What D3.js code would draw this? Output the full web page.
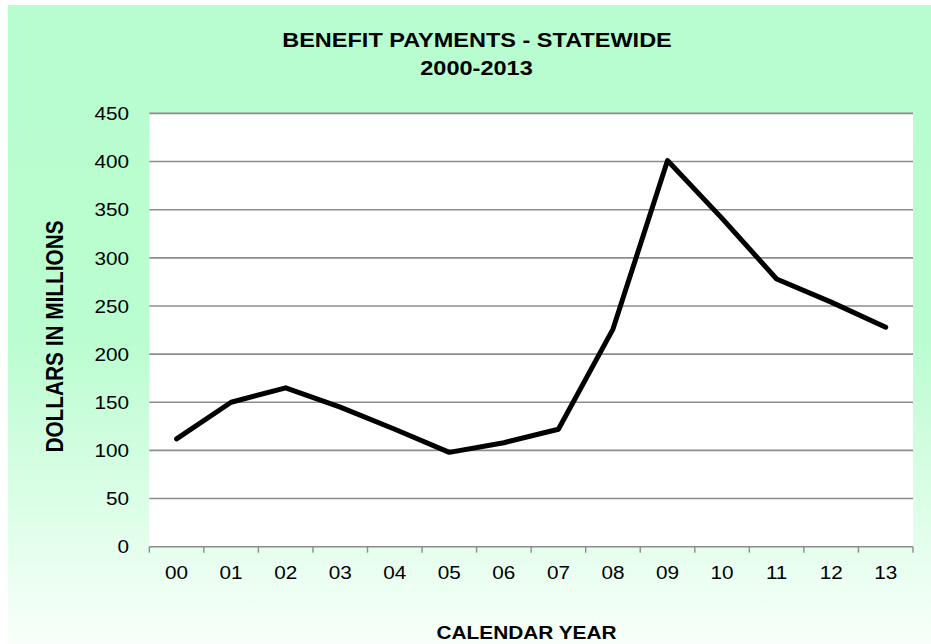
<!DOCTYPE html>
<html>
<head>
<meta charset="utf-8">
<script src="https://cdn.jsdelivr.net/npm/d3@7"></script>
<style>
  html, body { margin: 0; padding: 0; background: #ffffff; }
  svg { display: block; }
  text { font-family: "Liberation Sans", Arial, sans-serif; fill: #000; }
</style>
</head>
<body>
<svg id="chart" width="931" height="644"></svg>
<script>
const years = ["00","01","02","03","04","05","06","07","08","09","10","11","12","13"];
const payments = [112, 150, 165, 145, 122, 98, 108, 122, 226, 401, 341, 278, 254, 228];
const yTicks = [0, 50, 100, 150, 200, 250, 300, 350, 400, 450];
const titleLines = ["BENEFIT PAYMENTS - STATEWIDE", "2000-2013"];
const xTitle = "CALENDAR YEAR";
const yTitle = "DOLLARS IN MILLIONS";

const W = 931, H = 644;
const plot = { left: 149.3, right: 913, top: 113.4, bottom: 546.7 };
const SX = 1.12; // horizontal text stretch of the original

const svg = d3.select("#chart");
const defs = svg.append("defs");
const grad = defs.append("linearGradient").attr("id", "bg").attr("x1", 0).attr("y1", 0).attr("x2", 0).attr("y2", 1);
grad.append("stop").attr("offset", "0%").attr("stop-color", "#b8fdcf");
grad.append("stop").attr("offset", "52%").attr("stop-color", "#bafdd0");
grad.append("stop").attr("offset", "100%").attr("stop-color", "#f8fffa");

svg.append("rect").attr("x", 8).attr("y", 5).attr("width", W - 8).attr("height", H - 5).attr("fill", "url(#bg)");

const x = d3.scaleBand().domain(years).range([plot.left, plot.right]).paddingInner(0).paddingOuter(0);
const y = d3.scaleLinear().domain([0, 450]).range([plot.bottom, plot.top]);

// plot area
svg.append("rect").attr("x", plot.left).attr("y", plot.top)
  .attr("width", plot.right - plot.left).attr("height", plot.bottom - plot.top).attr("fill", "#ffffff");

// gridlines
svg.append("g").attr("class", "grid")
  .selectAll("line").data(yTicks.filter(d => d > 0)).join("line")
  .attr("x1", plot.left).attr("x2", plot.right)
  .attr("y1", d => y(d)).attr("y2", d => y(d))
  .attr("stroke", "#8c8c8c").attr("stroke-width", 1.6);

// y tick labels
svg.append("g").selectAll("text").data(yTicks).join("text")
  .attr("transform", d => `translate(129,${y(d)}) scale(${SX},1)`)
  .attr("text-anchor", "end").attr("dy", "0.36em")
  .style("font-size", "18.5px").text(d => d);

// x axis
const xAxis = d3.axisBottom(x).tickSize(0).tickFormat("");
const gx = svg.append("g").attr("transform", `translate(0,${plot.bottom})`).call(xAxis);
gx.select(".domain").attr("stroke", "#8c8c8c").attr("stroke-width", 1.6).attr("d", `M${plot.left},0H${plot.right}`);
const bounds = years.map(d => x(d)).concat([plot.right]);
gx.selectAll(".bt").data(bounds).join("line").attr("class", "bt")
  .attr("x1", d => d).attr("x2", d => d).attr("y1", 0).attr("y2", 6)
  .attr("stroke", "#8c8c8c").attr("stroke-width", 1.4);

svg.append("g").selectAll("text").data(years).join("text")
  .attr("transform", d => `translate(${x(d) + x.bandwidth() / 2},579) scale(${SX},1)`)
  .attr("text-anchor", "middle").style("font-size", "18.5px").text(d => d);

// line
const line = d3.line().x((d, i) => x(years[i]) + x.bandwidth() / 2).y(d => y(d));
svg.append("path").datum(payments).attr("d", line)
  .attr("fill", "none").attr("stroke", "#000").attr("stroke-width", 5)
  .attr("stroke-linejoin", "round").attr("stroke-linecap", "round");

// titles
svg.append("text").attr("transform", `translate(477,46.5) scale(${SX},1)`)
  .attr("text-anchor", "middle").style("font-size", "21px").style("font-weight", "bold").text(titleLines[0]);
svg.append("text").attr("transform", `translate(476.5,75) scale(${SX},1)`)
  .attr("text-anchor", "middle").style("font-size", "21px").style("font-weight", "bold").text(titleLines[1]);

svg.append("text").attr("transform", `translate(526.5,638.5) scale(${SX},1)`)
  .attr("text-anchor", "middle").style("font-size", "18.6px").style("font-weight", "bold").text(xTitle);

svg.append("text").attr("transform", `translate(63,336.5) scale(${SX},1) rotate(-90)`)
  .attr("text-anchor", "middle").style("font-size", "20.8px").style("font-weight", "bold").text(yTitle);
</script>
</body>
</html>
